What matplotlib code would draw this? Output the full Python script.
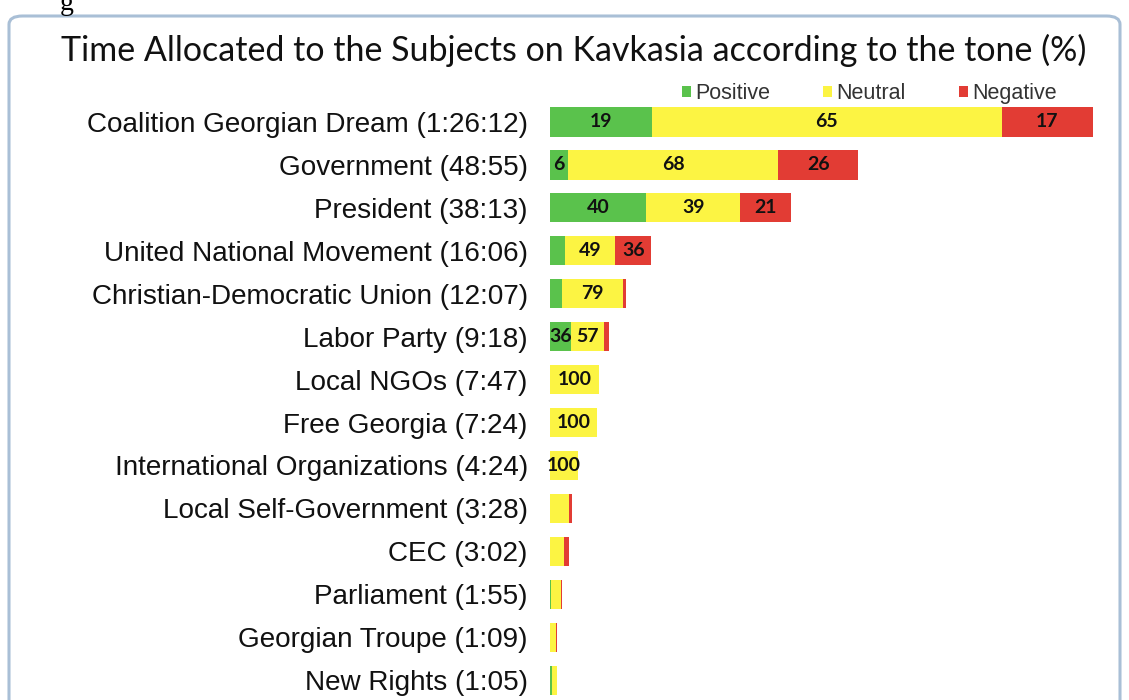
import matplotlib
matplotlib.use('agg')

import matplotlib.pyplot as plt
from matplotlib.patches import FancyBboxPatch
import numpy as np

# Subjects, airtime (h:mm:ss) and tone split in %
subjects = ['Coalition Georgian Dream', 'Government', 'President',
            'United National Movement', 'Christian-Democratic Union',
            'Labor Party', 'Local NGOs', 'Free Georgia',
            'International Organizations', 'Local Self-Government', 'CEC',
            'Parliament', 'Georgian Troupe', 'New Rights']
durations = ['1:26:12', '48:55', '38:13', '16:06', '12:07', '9:18', '7:47',
             '7:24', '4:24', '3:28', '3:02', '1:55', '1:09', '1:05']
positive = [19, 6, 40, 15, 16, 36, 0, 0, 0, 0, 0, 10, 0, 35]
neutral = [65, 68, 39, 49, 79, 57, 100, 100, 100, 85, 74, 77, 80, 65]
negative = [17, 26, 21, 36, 5, 7, 0, 0, 0, 15, 26, 13, 20, 0]
# which values carry a printed label in the original
show_pos = [1, 1, 1, 0, 0, 1, 0, 0, 0, 0, 0, 0, 0, 0]
show_neu = [1, 1, 1, 1, 1, 1, 1, 1, 1, 0, 0, 0, 0, 0]
show_neg = [1, 1, 1, 1, 0, 0, 0, 0, 0, 0, 0, 0, 0, 0]


def to_seconds(s):
    parts = [int(p) for p in s.split(':')]
    sec = 0
    for p in parts:
        sec = sec * 60 + p
    return sec


def sum_row(p, n, g):
    return np.array(p) + np.array(n) + np.array(g)


def main():
    secs = np.array([to_seconds(d) for d in durations], dtype=float)
    tones = [('Positive', positive, show_pos, '#5ac24c'),
             ('Neutral', neutral, show_neu, '#fcf443'),
             ('Negative', negative, show_neg, '#e23c34')]

    W, H = 1129, 700
    fig = plt.figure(figsize=(W / 100, H / 100), dpi=100)

    # rounded frame around the chart
    frame = FancyBboxPatch((9 / W, -0.02), 1111 / W, (H - 16) / H + 0.02,
                           boxstyle='round,pad=0,rounding_size=0.012',
                           transform=fig.transFigure, facecolor='none',
                           edgecolor='#a9bfd6', linewidth=2.2, zorder=-1)
    fig.patches.append(frame)
    fig.text(60 / W, 1 - 4 / H, 'g', fontsize=20, family='Liberation Serif',
             va='center', ha='left')

    fig.text(574 / W, 1 - 50 / H,
             'Time Allocated to the Subjects on Kavkasia according to the tone (%)',
             fontsize=24.5, family='Lato', ha='center', va='center', color='#111111')

    ax = fig.add_axes([550 / W, 0.5 / H, 543 / W, 599 / H])
    y = np.arange(len(subjects))
    left = np.zeros(len(subjects))
    handles = []
    total = sum_row(positive, neutral, negative)
    for name, vals, show, col in tones:
        w = secs * np.array(vals) / total
        b = ax.barh(y, w, left=left, height=0.68, color=col, edgecolor='none',
                    label=name)
        handles.append(b)
        for i in range(len(subjects)):
            if show[i]:
                ax.text(left[i] + w[i] / 2, y[i], str(vals[i]), ha='center',
                        va='center', fontsize=14, fontweight='bold',
                        family='Lato', color='#111111')
        left = left + w

    ax.set_xlim(0, secs[0])
    ax.set_ylim(13.45, -0.5)
    ax.set_yticks(y)
    ax.set_yticklabels([f'{s} ({d})' for s, d in zip(subjects, durations)],
                       fontsize=20.1, family='Liberation Sans', color='#111111')
    ax.tick_params('y', length=0, pad=16)
    ax.set_xticks([])
    for sp in ax.spines.values():
        sp.set_visible(False)
    ax.patch.set_alpha(0)

    ax.legend(handles=handles, ncol=3, frameon=False, loc='lower right',
              bbox_to_anchor=(0.953, 0.976),
              prop={'family': 'Liberation Sans', 'size': 15.5},
              handlelength=0.42, handleheight=0.42, handletextpad=0.2,
              columnspacing=2.45, labelcolor='#333333', borderpad=0.0)

    fig.savefig('out.png', dpi=100)


if __name__ == "__main__":
    main()
